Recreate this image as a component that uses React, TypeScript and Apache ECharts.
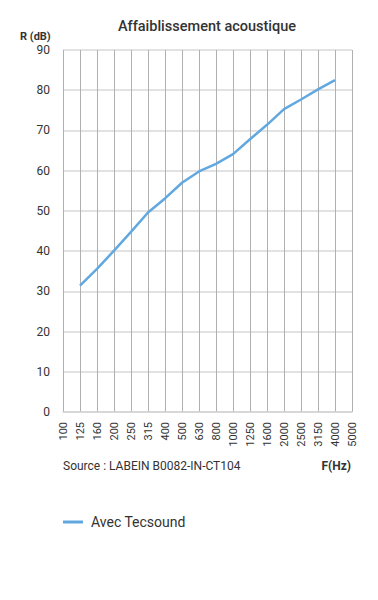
import React, { useEffect, useRef } from "react";
import * as echarts from "echarts";

const frequencies = ["100","125","160","200","250","315","400","500","630","800","1000","1250","1600","2000","2500","3150","4000","5000"];
const avecTecsound: (number | null)[] = [null, 31.4, 35.6, 40.1, 44.8, 49.6, 53.1, 57.0, 59.8, 61.7, 64.1, 67.8, 71.4, 75.3, 77.7, 80.2, 82.5, null];
const seriesName = "Avec Tecsound";
const titleText = "Affaiblissement acoustique";
const yAxisTitle = "R (dB)";
const xAxisTitle = "F(Hz)";
const sourceText = "Source : LABEIN B0082-IN-CT104";

const FONT = "Roboto, 'Noto Sans', sans-serif";

export default function App() {
  const ref = useRef<HTMLDivElement>(null);
  useEffect(() => {
    if (!ref.current) return;
    const chart = echarts.init(ref.current, undefined, { renderer: "svg" });
    chart.setOption({
      animation: false,
      textStyle: { fontFamily: FONT },
      legend: {
        left: 58,
        top: 510,
        itemWidth: 20,
        itemHeight: 3,
        itemGap: 8,
        data: [{ name: seriesName, icon: "rect" }],
        textStyle: { fontSize: 14, color: "#333", fontFamily: FONT, padding: [0, 0, 0, 3] },
      },
      grid: { left: 63, right: 26, top: 50, bottom: 188, containLabel: false },
      xAxis: {
        type: "category",
        data: frequencies,
        boundaryGap: false,
        axisLine: { show: true, lineStyle: { color: "#d4d4d4", width: 1.5 } },
        axisTick: { show: false },
        axisLabel: { rotate: 90, fontSize: 11, color: "#333", margin: 10, interval: 0, fontFamily: FONT },
        splitLine: { show: true, lineStyle: { color: "#b0b0b0", width: 1 } },
      },
      yAxis: {
        type: "value",
        min: 0,
        max: 90,
        interval: 10,
        axisLine: { show: false },
        axisTick: { show: false },
        axisLabel: { fontSize: 12, color: "#333", margin: 13, fontFamily: FONT },
        splitLine: { show: true, lineStyle: { color: "#d8d8d8", width: 1.5 } },
      },
      graphic: [
        { type: "text", x: 207, y: 26, style: { text: titleText, fontSize: 14.5, fontWeight: 500, fill: "#333", fontFamily: FONT, align: "center", verticalAlign: "middle" } },
        { type: "text", left: 20, top: 31, style: { text: yAxisTitle, fontSize: 11, fontWeight: "bold", fill: "#333", fontFamily: FONT } },
        { type: "text", left: 63, top: 460, style: { text: sourceText, fontSize: 12, fill: "#333", fontFamily: FONT } },
        { type: "text", right: 27, top: 460, style: { text: xAxisTitle, fontSize: 12, fontWeight: "bold", fill: "#333", fontFamily: FONT } },
      ],
      series: [
        {
          name: seriesName,
          type: "line",
          data: avecTecsound,
          symbol: "none",
          connectNulls: false,
          lineStyle: { color: "#62a8e0", width: 2.5 },
          itemStyle: { color: "#62a8e0" },
        },
      ],
    });
    return () => chart.dispose();
  }, []);
  return <div ref={ref} style={{ position: "absolute", left: 0, top: 0, width: 378, height: 600 }} />;
}
